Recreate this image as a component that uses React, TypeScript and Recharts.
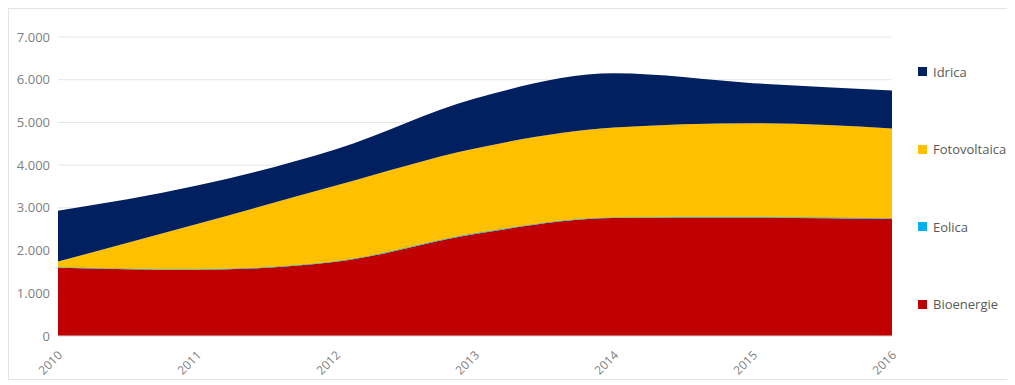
import { AreaChart, Area, XAxis, YAxis, CartesianGrid, Legend } from 'recharts';

const years = ['2010', '2011', '2012', '2013', '2014', '2015', '2016'];
const bioenergie = [1600, 1550, 1740, 2390, 2760, 2770, 2740];
const eolica = [12, 12, 12, 15, 15, 15, 15];
const fotovoltaica = [130, 1060, 1770, 1985, 2105, 2195, 2105];
const idrica = [1190, 900, 850, 1170, 1270, 940, 890];
const yTicks = [0, 1000, 2000, 3000, 4000, 5000, 6000, 7000];

const series = [
  { key: 'Idrica', color: '#002060' },
  { key: 'Fotovoltaica', color: '#FFC000' },
  { key: 'Eolica', color: '#00B0F0' },
  { key: 'Bioenergie', color: '#C00000' },
];

const data = years.map((y, i) => ({
  year: y,
  Bioenergie: bioenergie[i],
  Eolica: eolica[i],
  Fotovoltaica: fotovoltaica[i],
  Idrica: idrica[i],
}));

const FONT = '"Open Sans", sans-serif';

const fmt = (v: number) => (v === 0 ? '0' : v.toLocaleString('de-DE'));

function YearTick({ x, y, payload }: any) {
  return (
    <text
      x={x + 5}
      y={y + 12}
      transform={`rotate(-45, ${x + 5}, ${y + 12})`}
      textAnchor="end"
      fontSize={12}
      fontFamily={FONT}
      fill="#7f7f7f"
    >
      {payload.value}
    </text>
  );
}

function SideLegend() {
  return (
    <div style={{ fontFamily: FONT, fontSize: 13, color: '#595959', paddingLeft: 11 }}>
      {series.map((s) => (
        <div key={s.key} style={{ display: 'flex', alignItems: 'center', height: 77.5 }}>
          <span style={{ width: 9, height: 9, background: s.color, marginRight: 6 }} />
          {s.key}
        </div>
      ))}
    </div>
  );
}

export default function App() {
  return (
    <div style={{ width: 1000, height: 372, border: '1px solid #e4e4e4', boxSizing: 'border-box' }}>
      <AreaChart width={998} height={370} data={data} margin={{ top: 28, right: 15, left: 0, bottom: 0 }}>
        <CartesianGrid vertical={false} stroke="#e6e6e6" />
        <XAxis
          dataKey="year"
          height={43}
          tick={<YearTick />}
          tickLine={false}
          axisLine={{ stroke: '#d9d9d9' }}
          interval={0}
        />
        <YAxis
          width={49}
          domain={[0, 7000]}
          ticks={yTicks}
          tickFormatter={fmt}
          tickLine={false}
          axisLine={false}
          tick={{ fontSize: 13, fontFamily: FONT, fill: '#7f7f7f' }}
        />
        <Legend
          layout="vertical"
          align="right"
          verticalAlign="top"
          wrapperStyle={{ right: 0, top: 24, width: 100 }}
          content={<SideLegend />}
        />
        <Area type="monotone" dataKey="Bioenergie" stackId="1" stroke="#C00000" strokeWidth={0} fill="#C00000" fillOpacity={1} isAnimationActive={false} />
        <Area type="monotone" dataKey="Eolica" stackId="1" stroke="#4BACC6" strokeWidth={1} fill="#00B0F0" fillOpacity={1} isAnimationActive={false} />
        <Area type="monotone" dataKey="Fotovoltaica" stackId="1" stroke="#FFC000" strokeWidth={0} fill="#FFC000" fillOpacity={1} isAnimationActive={false} />
        <Area type="monotone" dataKey="Idrica" stackId="1" stroke="#002060" strokeWidth={0} fill="#002060" fillOpacity={1} isAnimationActive={false} />
      </AreaChart>
    </div>
  );
}
